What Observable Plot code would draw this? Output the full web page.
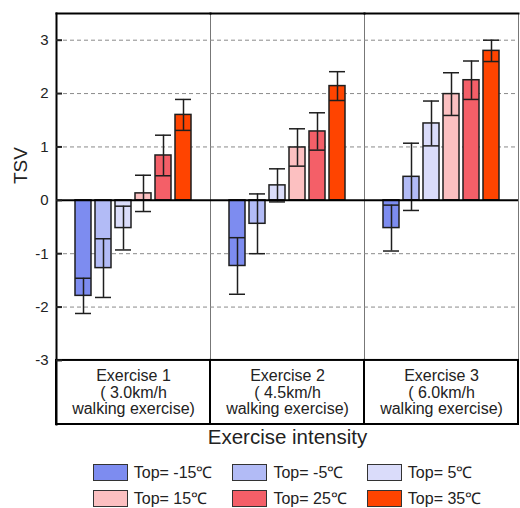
<!DOCTYPE html>
<html>
<head>
<meta charset="utf-8">
<script src="https://cdn.jsdelivr.net/npm/d3@7"></script>
<script src="https://cdn.jsdelivr.net/npm/@observablehq/plot@0.6"></script>
<style>
  body { margin: 0; background: #fff; font-family: "Liberation Sans", Arial, sans-serif; }
  #chart { width: 520px; }
  .legend {
    display: grid; grid-template-columns: repeat(3, auto); column-gap: 20px; row-gap: 9px;
    justify-content: center; padding: 9px 1px 0 55px; font-size: 16px; line-height: 17px; color: #222;
  }
  .item { display: flex; align-items: center; height: 17px; white-space: nowrap; }
  .sw { width: 35px; height: 17px; border: 1px solid #333; margin-right: 6px; box-sizing: border-box; }
</style>
</head>
<body>
<div id="chart"></div>
<script>
const groups = ["Exercise 1", "Exercise 2", "Exercise 3"];
const groupLabels = ["Exercise 1\n( 3.0km/h\nwalking exercise)", "Exercise 2\n( 4.5km/h\nwalking exercise)", "Exercise 3\n( 6.0km/h\nwalking exercise)"];
const temps = ["Top= -15℃", "Top= -5℃", "Top= 5℃", "Top= 15℃", "Top= 25℃", "Top= 35℃"];
const colors = ["#7d8cf0", "#b2bbf6", "#dadcfa", "#fcc0c1", "#f45f68", "#ff4400"];
const ex1 = [-1.79, -1.27, -0.52, 0.13, 0.84, 1.60];
const ex1Err = [0.33, 0.55, 0.41, 0.34, 0.38, 0.29];
const ex2 = [-1.23, -0.44, 0.28, 0.99, 1.29, 2.14];
const ex2Err = [0.53, 0.56, 0.31, 0.35, 0.35, 0.27];
const ex3 = [-0.52, 0.44, 1.44, 1.99, 2.25, 2.80];
const ex3Err = [0.43, 0.63, 0.42, 0.40, 0.36, 0.20];
const yTicks = [-3, -2, -1, 0, 1, 2, 3];
const gridTicks = [-2, -1, 1, 2, 3];
const yTop = 3.5, yBottom = -3, boxBottom = -4.2;
const axisTitle = "Exercise intensity";
const yTitle = "TSV";

const values = [ex1, ex2, ex3], errs = [ex1Err, ex2Err, ex3Err];
const data = [];
groups.forEach((g, i) => temps.forEach((t, j) => data.push({
  group: g, temp: t, value: values[i][j], lo: values[i][j] - errs[i][j], hi: values[i][j] + errs[i][j]
})));
const groupData = groups.map((g, i) => ({group: g, label: groupLabels[i]}));

const chart = Plot.plot({
  width: 520, height: 455,
  marginTop: 13, marginLeft: 55, marginRight: 1, marginBottom: 31,
  style: {fontFamily: "'Liberation Sans', Arial, sans-serif", fontSize: "14px", color: "#222", background: "#fff"},
  fx: {domain: groups, padding: 0, axis: null},
  x: {domain: temps, paddingInner: 0.18, paddingOuter: 0.83, axis: null},
  y: {domain: [boxBottom, yTop], axis: null},
  color: {domain: temps, range: colors},
  marks: [
    Plot.frame({stroke: "#777", strokeWidth: 1}),
    Plot.ruleY(gridTicks, {stroke: "#8a8a8a", strokeWidth: 1, strokeDasharray: "4,3"}),
    Plot.barY(data, {fx: "group", x: "temp", y: "value", fill: "temp", stroke: "#1e1e1e", strokeWidth: 1.5}),
    Plot.ruleX(data, {fx: "group", x: "temp", y1: "lo", y2: "hi", stroke: "#1e1e1e", strokeWidth: 1.5}),
    Plot.tickY(data, {fx: "group", x: "temp", y: "lo", stroke: "#1e1e1e", strokeWidth: 1.5}),
    Plot.tickY(data, {fx: "group", x: "temp", y: "hi", stroke: "#1e1e1e", strokeWidth: 1.5}),
    Plot.ruleY([0], {stroke: "#000", strokeWidth: 2}),
    Plot.frame({anchor: "top", stroke: "#000", strokeWidth: 2}),
    Plot.rect(groupData, {fx: "group", y1: yBottom, y2: boxBottom, fill: "#fff", stroke: "#000", strokeWidth: 2}),
    Plot.text(groupData, {fx: "group", y: (yBottom + boxBottom) / 2, text: "label", fontSize: 16, lineHeight: 1.03, fill: "#222"}),
    Plot.frame({anchor: "left", facetAnchor: "left", stroke: "#000", strokeWidth: 2}),
    Plot.axisY(yTicks, {anchor: "left", tickSize: -6, tickPadding: 14, strokeWidth: 2, fontSize: 15, label: null, tickFormat: d => `${d}`}),
    Plot.text([yTitle], {frameAnchor: "left", facetAnchor: "left", dx: -36, dy: -35, rotate: -90, fontSize: 19, fill: "#222"}),
    Plot.text([{group: groups[1], t: axisTitle}], {fx: "group", text: "t", frameAnchor: "bottom", dy: 19, fontSize: 20.5, fill: "#222"})
  ]
});
document.getElementById("chart").appendChild(chart);

const legend = document.createElement("div");
legend.className = "legend";
temps.forEach((t, i) => {
  const it = document.createElement("div");
  it.className = "item";
  const sw = document.createElement("div");
  sw.className = "sw";
  sw.style.background = colors[i];
  const lab = document.createElement("span");
  lab.textContent = t;
  it.appendChild(sw); it.appendChild(lab);
  legend.appendChild(it);
});
document.getElementById("chart").appendChild(legend);
</script>
</body>
</html>
